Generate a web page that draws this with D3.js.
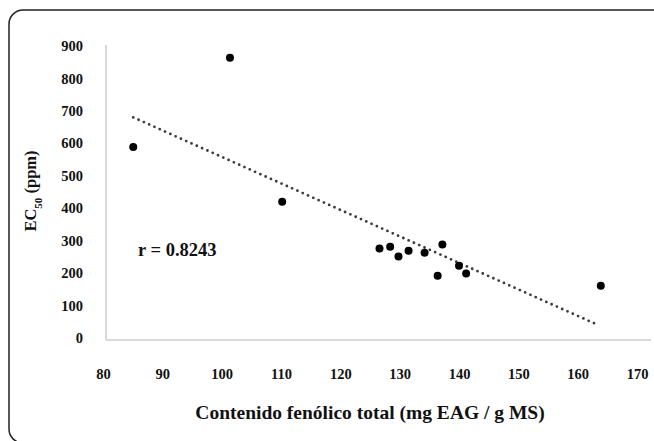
<!DOCTYPE html>
<html>
<head>
<meta charset="utf-8">
<script src="https://cdn.jsdelivr.net/npm/d3@7"></script>
<style>
  body { margin: 0; background: #fff; }
  text { font-family: "Liberation Serif", "Times New Roman", serif; font-weight: bold; fill: #111; }
</style>
</head>
<body>
<div id="chart"></div>
<script>
// phenolic content (x) vs EC50 (y)
const phenolic = [85.1, 101.4, 110.2, 126.6, 128.4, 129.8, 131.5, 134.2, 137.2, 136.4, 140.0, 141.2, 163.9]
const ec50 = [589, 864, 420, 276, 281, 251, 269, 263, 288, 192, 223, 199, 161]
const trendX = [85.1, 163.2]
const trendY = [680, 42]
const xTicks = [80, 90, 100, 110, 120, 130, 140, 150, 160, 170]
const yTicks = [0, 100, 200, 300, 400, 500, 600, 700, 800, 900]

const width = 654
const height = 441

const svg = d3.select('#chart')
  .append('svg')
    .attr('width', width)
    .attr('height', height)

// outer frame, runs off the right and bottom
svg.append('rect')
  .attr('x', 9)
  .attr('y', 10)
  .attr('width', 700)
  .attr('height', 433)
  .attr('rx', 14)
  .attr('fill', 'none')
  .attr('stroke', '#222')
  .attr('stroke-width', 1.5)

const x = d3.scaleLinear()
  .domain([80, 170])
  .range([103, 637])

const y = d3.scaleLinear()
  .domain([0, 900])
  .range([338, 46])

// axes
const yAxis = svg.append('g')
  .attr('transform', 'translate(106, 0)')
  .call(d3.axisLeft(y).tickValues(yTicks).tickSize(0).tickPadding(23).tickFormat(d3.format('d')))
yAxis.select('.domain').attr('stroke', '#d9d9d9').attr('stroke-width', 2)
  .attr('d', 'M0,45V340')
yAxis.selectAll('text').style('font-size', '14.5px').attr('font-family', null)

const xAxis = svg.append('g')
  .attr('transform', 'translate(0, 340)')
  .call(d3.axisBottom(x).tickValues(xTicks).tickSize(0).tickPadding(29).tickFormat(d3.format('d')))
xAxis.select('.domain').attr('stroke', '#d9d9d9').attr('stroke-width', 2)
  .attr('d', 'M106,0H651')
xAxis.selectAll('text').style('font-size', '14.5px').attr('font-family', null)

// trend line
svg.append('path')
  .attr('d', d3.line()(trendX.map((d, i) => [x(d), y(trendY[i])])))
  .attr('fill', 'none')
  .attr('stroke', '#3a3a3a')
  .attr('stroke-width', 2.8)
  .attr('stroke-linecap', 'round')
  .attr('stroke-dasharray', '0,5.8')

// data points
svg.selectAll('circle.pt')
  .data(phenolic)
  .enter()
  .append('circle')
    .attr('class', 'pt')
    .attr('cx', d => x(d))
    .attr('cy', (d, i) => y(ec50[i]))
    .attr('r', 4)
    .attr('fill', '#000')

svg.append('text')
  .attr('x', 138)
  .attr('y', 256)
  .style('font-size', '18.5px')
  .text('r = 0.8243')

svg.append('text')
  .attr('x', 370)
  .attr('y', 419)
  .attr('text-anchor', 'middle')
  .style('font-size', '19.5px')
  .text('Contenido fenólico total (mg EAG / g MS)')

const yTitle = svg.append('text')
  .attr('transform', 'translate(36, 191) rotate(-90)')
  .attr('text-anchor', 'middle')
  .style('font-size', '16.5px')
yTitle.append('tspan').text('EC')
yTitle.append('tspan').attr('baseline-shift', 'sub').style('font-size', '11px').text('50')
yTitle.append('tspan').text(' (ppm)')
</script>
</body>
</html>
